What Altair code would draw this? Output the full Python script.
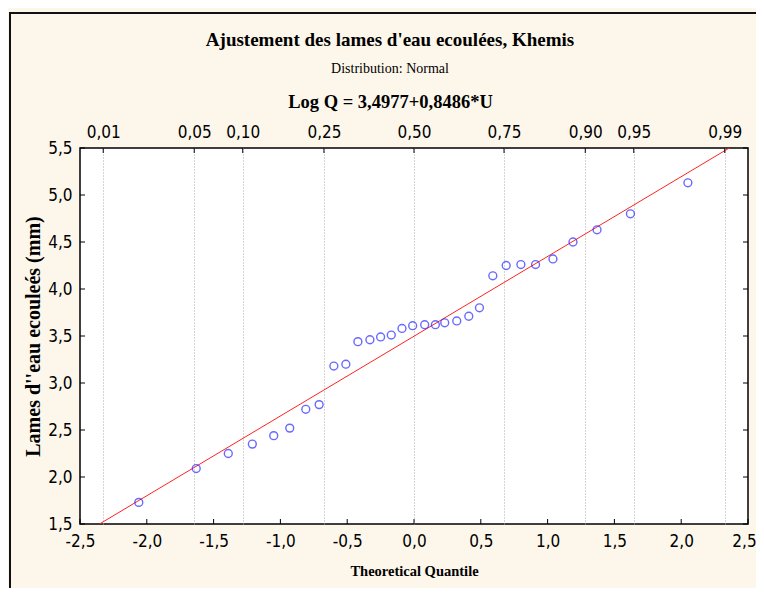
import altair as alt
import pandas as pd

# ---- data ----
theoretical_quantile = [-2.06, -1.63, -1.39, -1.21, -1.05, -0.93, -0.81, -0.71, -0.60, -0.51,
                        -0.42, -0.33, -0.25, -0.17, -0.09, -0.01, 0.08, 0.16, 0.23, 0.32,
                        0.41, 0.49, 0.59, 0.69, 0.80, 0.91, 1.04, 1.19, 1.37, 1.62, 2.05]
lames = [1.73, 2.09, 2.25, 2.35, 2.44, 2.52, 2.72, 2.77, 3.18, 3.20,
         3.44, 3.46, 3.49, 3.51, 3.58, 3.61, 3.62, 3.62, 3.64, 3.66,
         3.71, 3.80, 4.14, 4.25, 4.26, 4.26, 4.32, 4.50, 4.63, 4.80, 5.13]
intercept = 3.4977
slope = 0.8486
line_u = [-2.5, 2.5]
x_ticks = [-2.5, -2.0, -1.5, -1.0, -0.5, 0.0, 0.5, 1.0, 1.5, 2.0, 2.5]
y_ticks = [1.5, 2.0, 2.5, 3.0, 3.5, 4.0, 4.5, 5.0, 5.5]
prob_labels = ["0,01", "0,05", "0,10", "0,25", "0,50", "0,75", "0,90", "0,95", "0,99"]
prob_z = [-2.326, -1.645, -1.282, -0.674, 0.0, 0.674, 1.282, 1.645, 2.326]

W, H = 668, 376
SANS = "Liberation Sans Narrow, Arial Narrow, DejaVu Sans Condensed, Liberation Sans, sans-serif"
SERIF = "Liberation Serif, Times New Roman, serif"
CREAM = "#FDF7EB"

xscale = alt.Scale(domain=[-2.5, 2.5], nice=False, zero=False)
yscale = alt.Scale(domain=[1.5, 5.5], nice=False, zero=False)

num_expr = "(datum.value < 0 ? '-' : '') + replace(format(abs(datum.value), '.1f'), '.', ',')"
prob_expr = ("[" + ",".join("'%s'" % s for s in prob_labels) + "][indexof(["
             + ",".join(str(z) for z in prob_z) + "], datum.value)]")

common_axis = dict(domain=False, ticks=False, labelFont=SANS, labelFontSize=17,
                   labelColor="black", labelFlush=False, labelOverlap=False,
                   titleFont=SERIF, titleFontWeight="bold", titleColor="black")

pts_df = pd.DataFrame({"u": theoretical_quantile, "q": lames})
points = alt.Chart(pts_df).mark_point(
    shape="circle", filled=False, color="#2a2aff", size=62, strokeWidth=1.4
).encode(
    x=alt.X("u:Q", scale=xscale,
            axis=alt.Axis(orient="bottom", values=x_ticks, labelExpr=num_expr, grid=False,
                          labelPadding=9, title="Theoretical Quantile", titleFontSize=14.5,
                          titlePadding=15,
                          labelOffset=alt.condition("datum.value >= 2.5", alt.value(-4), alt.value(0)),
                          **common_axis)),
    y=alt.Y("q:Q", scale=yscale,
            axis=alt.Axis(orient="left", values=y_ticks, labelExpr=num_expr, grid=False,
                          labelPadding=8, title="Lames d''eau ecouleés (mm)", titleFontSize=20,
                          titlePadding=4, titleY=H / 2, **common_axis)),
)

line_df = pd.DataFrame({"u": line_u})
fit = alt.Chart(line_df).transform_calculate(
    q=f"{intercept} + {slope} * datum.u"
).mark_line(color="#ff2222", strokeWidth=1, clip=True).encode(
    x=alt.X("u:Q", scale=xscale, axis=None),
    y=alt.Y("q:Q", scale=yscale, axis=None),
)

prob_df = pd.DataFrame({"z": prob_z})
top = alt.Chart(prob_df).mark_rule(color="black", strokeWidth=1).encode(
    x=alt.X("z:Q", scale=xscale,
            axis=alt.Axis(orient="top", values=prob_z, labelExpr=prob_expr, grid=True,
                          gridDash=[1, 2], gridColor="#a8a8a8", gridWidth=1,
                          labelPadding=7, title="Log Q = 3,4977+0,8486*U", titleFontSize=18.5,
                          titlePadding=12, titleX=310, **common_axis)),
    y=alt.value(0), y2=alt.value(5),
)

xt_df = pd.DataFrame({"t": x_ticks})
bottom_ticks = alt.Chart(xt_df).mark_rule(color="black").encode(
    x=alt.X("t:Q", scale=xscale, axis=None), y=alt.value(H), y2=alt.value(H - 5))

yt_df = pd.DataFrame({"t": y_ticks})
left_ticks = alt.Chart(yt_df).mark_rule(color="black").encode(
    y=alt.Y("t:Q", scale=yscale, axis=None), x=alt.value(0), x2=alt.value(5))
right_ticks = alt.Chart(yt_df).mark_rule(color="black").encode(
    y=alt.Y("t:Q", scale=yscale, axis=None), x=alt.value(W), x2=alt.value(W - 5))

one = pd.DataFrame({"a": [0]})
frame_left = alt.Chart(one).mark_rule(color="#111111", strokeWidth=2).encode(
    x=alt.value(-70), y=alt.value(-135), y2=alt.value(H + 64))
frame_top = alt.Chart(one).mark_rule(color="#111111", strokeWidth=2).encode(
    y=alt.value(-135), x=alt.value(-71), x2=alt.value(W + 8))

chart = alt.layer(
    fit, points, top, bottom_ticks, left_ticks, right_ticks, frame_left, frame_top
).resolve_scale(x="shared", y="shared").resolve_axis(
    x="independent", y="independent"
).properties(
    width=W, height=H,
    padding={"left": 72, "top": 140, "right": 8, "bottom": 64},
    autosize=alt.AutoSizeParams(type="none"),
    title=alt.Title(
        text="Ajustement des lames d'eau ecoulées, Khemis",
        subtitle="Distribution: Normal",
        font=SERIF, fontSize=19, fontWeight="bold", color="black",
        subtitleFont=SERIF, subtitleFontSize=14, subtitleColor="black",
        subtitlePadding=12, anchor="middle", offset=0, dy=64, dx=-24,
    ),
).configure(background=CREAM).configure_view(
    stroke="black", strokeWidth=1.5, fill="white"
)

chart.save("out.html", embed_options={"renderer": "svg", "actions": False})
